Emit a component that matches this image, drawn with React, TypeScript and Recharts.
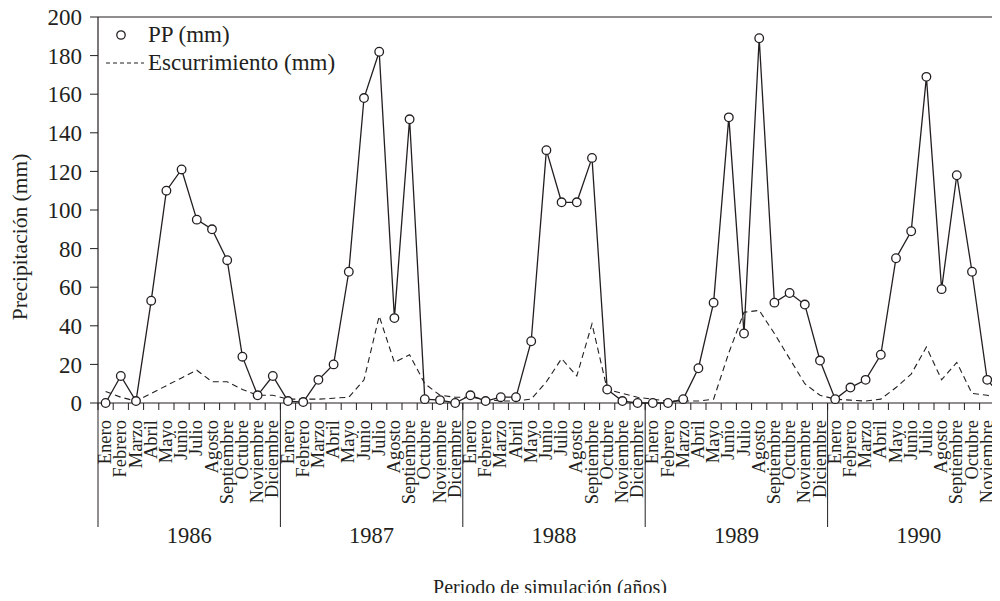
import { Legend, Line, LineChart, ReferenceLine, XAxis, YAxis, Label } from 'recharts';

const MONTHS = [
	'Enero',
	'Febrero',
	'Marzo',
	'Abril',
	'Mayo',
	'Junio',
	'Julio',
	'Agosto',
	'Septiembre',
	'Octubre',
	'Noviembre',
	'Diciembre',
];
const YEARS = [1986, 1987, 1988, 1989, 1990];

// PP (mm)
const PP_1986 = [0, 14, 1, 53, 110, 121, 95, 90, 74, 24, 4, 14];
const PP_1987 = [1, 0.5, 12, 20, 68, 158, 182, 44, 147, 2, 1.5, 0];
const PP_1988 = [4, 1, 3, 3, 32, 131, 104, 104, 127, 7, 1, 0];
const PP_1989 = [0, 0, 2, 18, 52, 148, 36, 189, 52, 57, 51, 22];
const PP_1990 = [2, 8, 12, 25, 75, 89, 169, 59, 118, 68, 12, 3];

// Escurrimiento (mm)
const ESC_1986 = [6, 3, 1, 5, 9, 13, 17, 11, 11, 7, 4, 4];
const ESC_1987 = [2, 2, 2, 2.5, 3, 12, 45, 21, 25, 10, 4, 3];
const ESC_1988 = [3, 2, 1, 1, 2, 11, 23, 14, 41, 7, 5, 3];
const ESC_1989 = [2, 1, 1, 1, 2, 26, 47, 48, 36, 23, 10, 4];
const ESC_1990 = [2, 1.5, 1, 2, 8, 15, 29, 12, 21, 5, 4, 2.5];

const Y_TICKS = [0, 20, 40, 60, 80, 100, 120, 140, 160, 180, 200];

const PP = [PP_1986, PP_1987, PP_1988, PP_1989, PP_1990];
const ESC = [ESC_1986, ESC_1987, ESC_1988, ESC_1989, ESC_1990];

const data = YEARS.flatMap((year, yi) =>
	MONTHS.map((mes, mi) => ({
		key: `${year}-${mi}`,
		mes,
		mi,
		year,
		pp: PP[yi][mi],
		esc: ESC[yi][mi],
	})),
);

const FONT = '"Liberation Serif", "Times New Roman", serif';
const INK = '#231f20';

function MonthTick(props: any) {
	const { x, y, payload } = props;
	const d = data[payload.index];
	if (!d) return null;
	const off = payload.offset ?? 0;
	const left = x - off;
	return (
		<g>
			<line x1={left} x2={left} y1={y} y2={y + 7} stroke={INK} strokeWidth={1} />
			{d.mi === 0 && <line x1={left} x2={left} y1={y} y2={y + 124} stroke={INK} strokeWidth={1} />}
			<text
				x={0}
				y={0}
				transform={`translate(${x + 5.5},${y + 17}) rotate(-90)`}
				textAnchor="end"
				fontFamily={FONT}
				fontSize={18.5}
				fill={INK}
			>
				{d.mes}
			</text>
			{d.mi === 6 && (
				<text x={left} y={y + 140} textAnchor="middle" fontFamily={FONT} fontSize={22.5} fill={INK}>
					{d.year}
				</text>
			)}
		</g>
	);
}

function YTitle(props: any) {
	const vb = props.viewBox || { x: 0, y: 17, height: 386 };
	const cx = vb.x + 20;
	const cy = vb.y + vb.height / 2 + 27;
	return (
		<text
			x={0}
			y={0}
			transform={`translate(${cx},${cy}) rotate(-90)`}
			textAnchor="middle"
			dominantBaseline="central"
			fontFamily={FONT}
			fontSize={21.5}
			fill={INK}
		>
			Precipitación (mm)
		</text>
	);
}

function XTitle(props: any) {
	const vb = props.viewBox || { x: 98, y: 403, width: 912 };
	return (
		<text
			x={vb.x + vb.width / 2 - 4}
			y={vb.y + 184}
			textAnchor="middle"
			dominantBaseline="central"
			fontFamily={FONT}
			fontSize={20}
			fill={INK}
		>
			Periodo de simulación (años)
		</text>
	);
}

function LegendBox() {
	const row = { display: 'flex', alignItems: 'center', height: 28 } as const;
	const txt = { fontFamily: FONT, fontSize: 23, color: INK, marginLeft: 2, whiteSpace: 'nowrap' } as const;
	return (
		<div>
			<div style={row}>
				<svg width={46} height={20}>
					<circle cx={21} cy={10} r={4.2} fill="#fff" stroke={INK} strokeWidth={1.3} />
				</svg>
				<span style={txt}>PP (mm)</span>
			</div>
			<div style={row}>
				<svg width={46} height={20}>
					<line x1={6} x2={44} y1={10} y2={10} stroke={INK} strokeWidth={1} strokeDasharray="4 3" />
				</svg>
				<span style={txt}>Escurrimiento (mm)</span>
			</div>
		</div>
	);
}

export default function App() {
	return (
		<div style={{ margin: -8, width: 1000, height: 601, overflow: 'hidden', background: '#fff' }}>
			<LineChart width={1020} height={601} data={data} margin={{ top: 17, right: 10, bottom: 0, left: 0 }}>
				<XAxis
					dataKey="key"
					type="category"
					scale="band"
					interval={0}
					height={198}
					tickSize={0}
					tickMargin={0}
					tickLine={false}
					axisLine={{ stroke: INK, strokeWidth: 1.2 }}
					tick={<MonthTick />}
				>
					<Label content={<XTitle />} />
				</XAxis>
				<YAxis
					width={98}
					domain={[0, 200]}
					ticks={Y_TICKS}
					interval={0}
					tickSize={8}
					tickMargin={8}
					axisLine={{ stroke: INK, strokeWidth: 1.2 }}
					tickLine={{ stroke: INK }}
					tick={{ fontFamily: FONT, fontSize: 23, fill: INK }}
				>
					<Label content={<YTitle />} />
				</YAxis>
				<ReferenceLine y={200} stroke={INK} strokeWidth={1.2} />
				<Legend
					verticalAlign="middle"
					align="center"
					layout="vertical"
					content={<LegendBox />}
					wrapperStyle={{ top: 21, left: 100, width: 280, height: 56 }}
				/>
				<Line
					dataKey="esc"
					name="Escurrimiento (mm)"
					stroke={INK}
					strokeWidth={1.1}
					strokeDasharray="6 4"
					dot={false}
					isAnimationActive={false}
				/>
				<Line
					dataKey="pp"
					name="PP (mm)"
					stroke={INK}
					strokeWidth={1.3}
					dot={{ r: 4.3, fill: '#fff', stroke: INK, strokeWidth: 1.3 }}
					isAnimationActive={false}
				/>
			</LineChart>
		</div>
	);
}
